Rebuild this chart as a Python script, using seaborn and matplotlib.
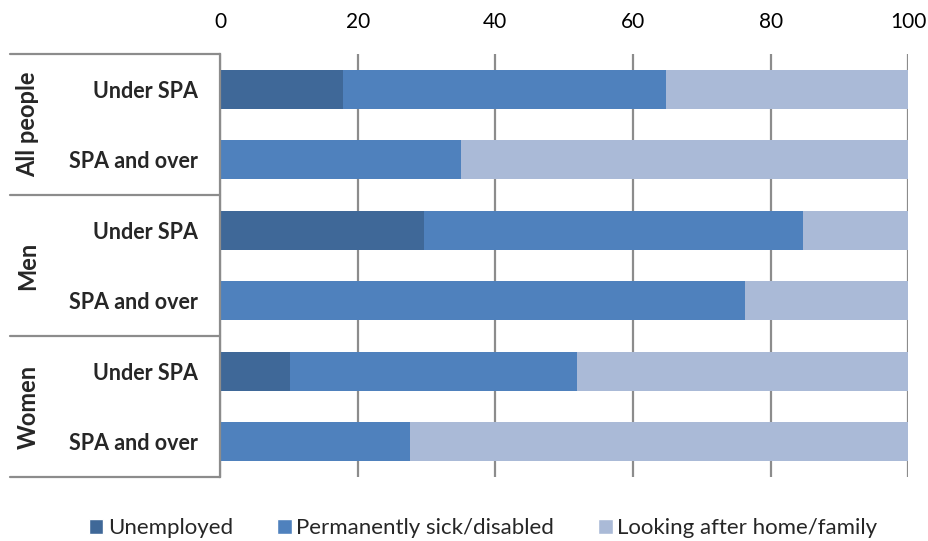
import pandas as pd
import matplotlib.pyplot as plt
from matplotlib.patches import Patch
import seaborn as sns

# Data (percent)
groups = ['All people', 'Men', 'Women']
ages = ['Under SPA', 'SPA and over']
unemployed = [17.8, 0.0, 29.6, 0.0, 10.1, 0.0]
sick = [47.0, 35.0, 55.1, 76.3, 41.7, 27.6]
looking = [35.2, 65.0, 15.3, 23.7, 48.2, 72.4]
series = ['Unemployed', 'Permanently sick/disabled', 'Looking after home/family']
colors = ['#3F6898', '#4F81BD', '#AABAD7']

rows = [f'{g}|{a}' for g in groups for a in ages]
df = pd.DataFrame({'row': rows, 'Unemployed': unemployed,
                   'Permanently sick/disabled': sick,
                   'Looking after home/family': looking})
df['c1'] = df['Unemployed']
df['c2'] = df['c1'] + df['Permanently sick/disabled']
df['c3'] = df['c2'] + df['Looking after home/family']

sns.set_style('white')
plt.rcParams['font.family'] = ['Lato', 'DejaVu Sans']

fig = plt.figure(figsize=(9.29, 5.41), dpi=100)
ax = fig.add_axes([220 / 929, 1 - 477 / 541, (908.3 - 220) / 929, (477 - 54) / 541])

# stacked bars: draw cumulative totals from back to front
for col, color in zip(['c3', 'c2', 'c1'], colors[::-1]):
    sns.barplot(data=df, x=col, y='row', orient='h', color=color,
                width=0.55, saturation=1, ax=ax, linewidth=0)

ax.set_xlim(0, 100)
ax.set_ylim(5.5, -0.5)
ax.set_xticks(range(0, 101, 20))
ax.xaxis.tick_top()
ax.tick_params(axis='x', length=0, labelsize=15, pad=16, colors='black')
ax.set_yticks(range(len(rows)))
ax.set_yticklabels([r.split('|')[1] for r in rows], fontweight='bold', fontsize=15.5)
ax.tick_params(axis='y', length=0, pad=16)
ax.set_xlabel('')
ax.set_ylabel('')
for x in range(0, 101, 20):
    ax.axvline(x, color='#8C8C8C', lw=1.6, zorder=0.5)
for s in ['top', 'right', 'bottom']:
    ax.spines[s].set_visible(False)
ax.spines['left'].set_color('#8C8C8C')
ax.spines['left'].set_linewidth(1.6)

# group boxes on the left
trans = ax.get_yaxis_transform()
x0 = (10 - 220) / (908.3 - 220)
for yb in [-0.5, 1.5, 3.5, 5.5]:
    ax.plot([x0, 0], [yb, yb], color='#8C8C8C', lw=1.6, transform=trans, clip_on=False)
for i, g in enumerate(groups):
    ax.text((28 - 220) / (908.3 - 220), 2 * i + 0.5, g, transform=trans, rotation=90,
            ha='center', va='center', fontsize=17, fontweight='bold')

handles = [Patch(facecolor=c, label=s) for s, c in zip(series, colors)]
fig.legend(handles=handles, loc='center', bbox_to_anchor=(0.52, 1 - 528 / 541), ncol=3,
           frameon=False, fontsize=16, handlelength=0.65, handleheight=0.65,
           handletextpad=0.2, columnspacing=2.0, borderpad=0)

fig.savefig('out.png', dpi=100)
